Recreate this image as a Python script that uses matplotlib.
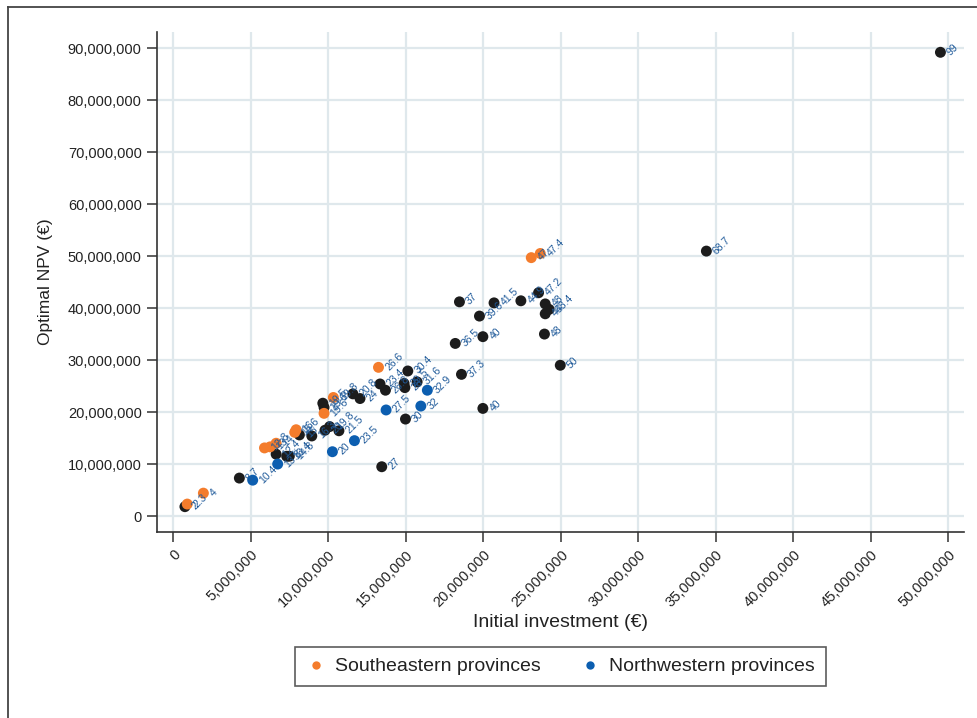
import matplotlib.pyplot as plt
from matplotlib.lines import Line2D
from matplotlib.ticker import FuncFormatter, MultipleLocator

plt.rcParams['font.family'] = ['Liberation Sans', 'DejaVu Sans']

# Initial investment (EUR), optimal NPV (EUR) and point labels per group
other_inv = [0.77e6, 4.28e6, 6.65e6, 7.33e6, 7.5e6, 8.15e6, 8.95e6, 9.66e6, 9.74e6,
             9.8e6, 10.1e6, 10.7e6, 11.6e6, 12.06e6, 13.35e6, 13.7e6, 14.9e6, 14.95e6,
             15.14e6, 15.74e6, 14.99e6, 13.46e6, 18.47e6, 19.76e6, 20.7e6, 22.43e6,
             23.57e6, 24.0e6, 24.25e6, 24.0e6, 23.95e6, 19.98e6, 18.2e6, 18.6e6,
             24.97e6, 19.98e6, 34.39e6, 49.48e6]
other_npv = [1.8e6, 7.3e6, 11.9e6, 11.5e6, 11.5e6, 15.6e6, 15.4e6, 21.7e6, 20.9e6,
             16.5e6, 17.2e6, 16.4e6, 23.5e6, 22.6e6, 25.4e6, 24.2e6, 25.5e6, 24.7e6,
             27.9e6, 25.8e6, 18.65e6, 9.48e6, 41.2e6, 38.46e6, 41.0e6, 41.4e6,
             42.95e6, 40.8e6, 39.75e6, 38.9e6, 35.0e6, 34.5e6, 33.2e6, 27.25e6,
             29.0e6, 20.7e6, 50.96e6, 89.2e6]
other_lab = ['2', '8.7', '12.4', '13.4', '14.8', '15', '16.3', '19.5', '19.6',
             '20', '19.8', '21.5', '20.8', '24', '23.4', '26.8', '29.5', '28',
             '30.4', '31.6', '30', '27', '37', '39.6', '41.5', '44.9',
             '47.2', '48', '48.4', '46', '48', '40', '36.5', '37.3',
             '50', '40', '68.7', '99']

se_inv = [0.92e6, 1.96e6, 5.9e6, 6.26e6, 6.65e6, 7.94e6, 7.85e6, 9.74e6, 10.34e6,
          13.25e6, 23.1e6, 23.68e6]
se_npv = [2.3e6, 4.4e6, 13.1e6, 13.3e6, 14.0e6, 16.6e6, 16.1e6, 19.75e6, 22.8e6,
          28.6e6, 49.7e6, 50.5e6]
se_lab = ['2.3', '4', '12.8', '13', '14', '16', '15.6', '19.6', '19.8',
          '26.6', '47', '47.4']

nw_inv = [5.14e6, 6.75e6, 10.28e6, 11.7e6, 13.74e6, 15.98e6, 16.4e6]
nw_npv = [6.9e6, 10.0e6, 12.37e6, 14.5e6, 20.4e6, 21.15e6, 24.2e6]
nw_lab = ['10.4', '13.8', '20', '23.5', '27.5', '32', '32.9']

BLACK = '#1c1c1c'
ORANGE = '#f47c2c'
BLUE = '#0c5eb0'
LABEL = '#1f5a9a'
GRID = '#dfe8ec'
AXC = '#333333'

fig = plt.figure(figsize=(9.77, 7.18), dpi=100)
ax = fig.add_axes([0.1607, 0.259, 0.826, 0.6964])

groups = [(other_inv, other_npv, other_lab, BLACK, None),
          (se_inv, se_npv, se_lab, ORANGE, 'Southeastern provinces'),
          (nw_inv, nw_npv, nw_lab, BLUE, 'Northwestern provinces')]

for i, (xs, ys, labs, col, name) in enumerate(groups):
    ax.scatter(xs, ys, s=62, color=col, edgecolors='none', zorder=3 + i, label=name)
    for x, y, t in zip(xs, ys, labs):
        ax.annotate(t, (x, y), xytext=(6, -1), textcoords='offset points',
                    rotation=45, rotation_mode='anchor', ha='left', va='center',
                    fontsize=7.5, color=LABEL, zorder=10)

ax.set_xlim(-1.03e6, 51.0e6)
ax.set_ylim(-3.08e6, 93.1e6)
ax.xaxis.set_major_locator(MultipleLocator(5e6))
ax.yaxis.set_major_locator(MultipleLocator(10e6))
fmt = FuncFormatter(lambda v, p: f'{v:,.0f}')
ax.xaxis.set_major_formatter(fmt)
ax.yaxis.set_major_formatter(fmt)

ax.grid(True, color=GRID, linewidth=1.6, zorder=0)
ax.set_axisbelow(True)
for s in ['top', 'right']:
    ax.spines[s].set_visible(False)
for s in ['left', 'bottom']:
    ax.spines[s].set_color(AXC)
    ax.spines[s].set_linewidth(1.2)

ax.tick_params(axis='both', direction='out', length=7, width=1.1, color=AXC,
               labelsize=10.5, labelcolor='#222222', pad=4)
plt.setp(ax.get_xticklabels(), rotation=45, ha='right', rotation_mode='anchor')

ax.set_xlabel('Initial investment (€)', fontsize=14, color='#222222', labelpad=3)
ax.set_ylabel('Optimal NPV (€)', fontsize=12.5, color='#222222', labelpad=11)

handles = [Line2D([], [], marker='o', linestyle='none', markersize=6,
                  markerfacecolor=c, markeredgecolor='none') for c in (ORANGE, BLUE)]
leg = fig.legend(handles, ['Southeastern provinces', 'Northwestern provinces'],
                 loc='center', bbox_to_anchor=(0.5737, 0.0717), ncol=2,
                 fontsize=14, frameon=True, fancybox=False, handletextpad=0.5,
                 columnspacing=2.0, borderpad=0.55, handlelength=1.0)
leg.get_frame().set_edgecolor('#333333')
leg.get_frame().set_linewidth(1.2)
for t in leg.get_texts():
    t.set_color('#222222')

# outer frame, top and left edges
fig.add_artist(Line2D([8 / 977, 1.0], [1 - 7 / 718, 1 - 7 / 718],
                      transform=fig.transFigure, color='#444444', linewidth=1.3))
fig.add_artist(Line2D([8 / 977, 8 / 977], [0.0, 1 - 7 / 718],
                      transform=fig.transFigure, color='#444444', linewidth=1.3))

fig.savefig('out.png', dpi=100)
